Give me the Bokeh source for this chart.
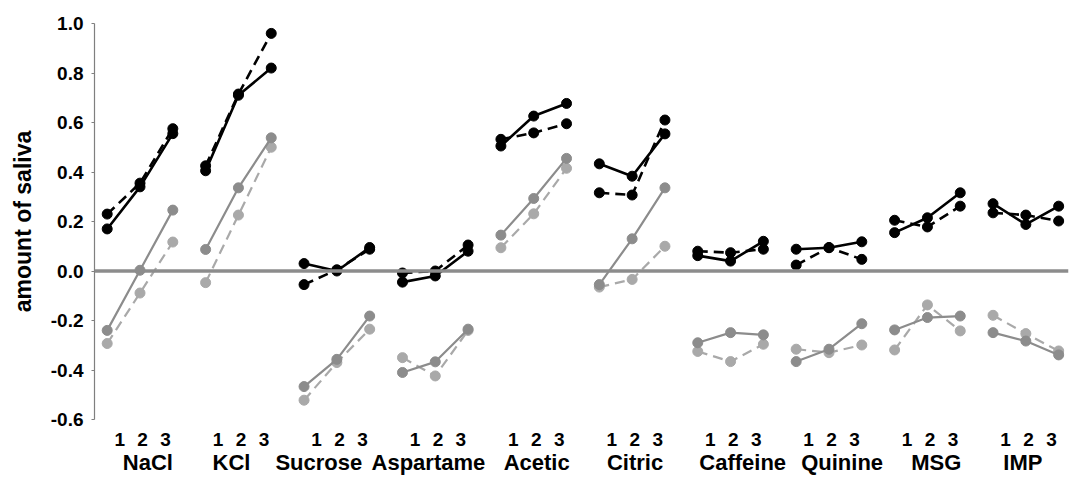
from bokeh.plotting import figure
from bokeh.models import Range1d, LinearAxis, FixedTicker, Span, PrintfTickFormatter
from bokeh.embed import file_html
from bokeh.resources import INLINE

groups = ["NaCl", "KCl", "Sucrose", "Aspartame", "Acetic", "Citric",
          "Caffeine", "Quinine", "MSG", "IMP"]
levels = ["1", "2", "3"]
y_ticks = [-0.6, -0.4, -0.2, 0.0, 0.2, 0.4, 0.6, 0.8, 1.0]

black_solid = [[0.17, 0.34, 0.555], [0.405, 0.71, 0.82], [0.03, 0.0, 0.095],
               [-0.045, -0.02, 0.08], [0.505, 0.626, 0.677], [0.433, 0.383, 0.554],
               [0.062, 0.04, 0.12], [0.088, 0.094, 0.118], [0.155, 0.215, 0.316],
               [0.272, 0.188, 0.262]]
black_dashed = [[0.23, 0.355, 0.575], [0.425, 0.715, 0.96], [-0.055, 0.005, 0.088],
                [-0.008, 0.0, 0.105], [0.532, 0.558, 0.595], [0.316, 0.307, 0.61],
                [0.08, 0.074, 0.088], [0.024, 0.095, 0.047], [0.205, 0.178, 0.262],
                [0.235, 0.226, 0.202]]
gray_solid = [[-0.24, 0.003, 0.246], [0.087, 0.336, 0.538], [-0.467, -0.357, -0.182],
              [-0.41, -0.367, -0.235], [0.145, 0.293, 0.455], [-0.055, 0.13, 0.336],
              [-0.29, -0.249, -0.258], [-0.366, -0.316, -0.213], [-0.238, -0.188, -0.182],
              [-0.249, -0.283, -0.339]]
gray_dashed = [[-0.293, -0.089, 0.117], [-0.047, 0.226, 0.50], [-0.522, -0.37, -0.235],
               [-0.35, -0.424, -0.24], [0.094, 0.231, 0.415], [-0.065, -0.034, 0.10],
               [-0.325, -0.366, -0.296], [-0.316, -0.33, -0.299], [-0.319, -0.137, -0.242],
               [-0.179, -0.253, -0.323]]

# layout only: horizontal nudges of the group names (in x units)
name_shift = [0.24, -0.21, -0.55, -0.21, 0.09, 0.09, 0.37, 0.40, 0.27, -0.09]

FONT = "Liberation Sans"
n = len(levels)

p = figure(width=1072, height=478, output_backend="svg", toolbar_location=None,
           x_range=Range1d(-0.387, 29.3), y_range=Range1d(-0.6, 1.0),
           x_axis_location=None, min_border_left=94, min_border_right=4,
           min_border_top=23, min_border_bottom=59)
p.outline_line_color = None
p.xgrid.visible = False
p.ygrid.visible = False
p.background_fill_color = "white"

# y axis
ya = p.yaxis[0]
ya.ticker = FixedTicker(ticks=y_ticks)
ya.formatter = PrintfTickFormatter(format="%.1f")
ya.axis_label = "amount of saliva"
ya.axis_label_text_font = FONT
ya.axis_label_text_font_style = "bold"
ya.axis_label_text_font_size = "23px"
ya.axis_label_text_color = "black"
ya.axis_label_standoff = 12
ya.major_label_text_font = FONT
ya.major_label_text_font_style = "bold"
ya.major_label_text_font_size = "19px"
ya.major_label_text_color = "black"
ya.major_label_standoff = 8
ya.axis_line_color = "#7f7f7f"
ya.axis_line_width = 1.2
ya.major_tick_line_color = "#7f7f7f"
ya.major_tick_out = 3
ya.major_tick_in = 0
ya.minor_tick_line_color = None

# zero line
p.add_layout(Span(location=0, dimension="width", line_color="#8c8c8c", line_width=3.5))

def xs_for(g):
    return [g * n + k for k in range(n)]

def add_series(data, color, dash, lw, size):
    xs = [xs_for(g) for g in range(len(groups))]
    p.multi_line(xs=xs, ys=data, line_color=color, line_width=lw, line_dash=dash)
    px = [x for row in xs for x in row]
    py = [y for row in data for y in row]
    p.scatter(px, py, size=size, fill_color=color, line_color=color)

add_series(gray_dashed, "#a9a9a9", "10 6", 2.2, 10)
add_series(gray_solid, "#8c8c8c", "solid", 2.2, 10)
add_series(black_dashed, "black", "10 6", 2.6, 10)
add_series(black_solid, "black", "solid", 2.6, 10)

# x labels: level numbers
lvl_ticks = []
lvl_over = {}
for g in range(len(groups)):
    mid = g * n + 1
    for k, lab in enumerate(levels):
        t = round(mid + 0.08 + (k - 1) * 0.7, 3)
        lvl_ticks.append(t)
        lvl_over[t] = lab

ax1 = LinearAxis(ticker=FixedTicker(ticks=lvl_ticks), major_label_overrides=lvl_over)
ax1.axis_line_color = None
ax1.major_tick_line_color = None
ax1.minor_tick_line_color = None
ax1.major_tick_out = 0
ax1.major_tick_in = 0
ax1.major_label_standoff = 13
ax1.major_label_text_font = FONT
ax1.major_label_text_font_style = "bold"
ax1.major_label_text_font_size = "19px"
ax1.major_label_text_color = "black"
p.add_layout(ax1, "below")

grp_ticks = [round(g * n + 1 + s, 3) for g, s in zip(range(len(groups)), name_shift)]
grp_over = {t: name for t, name in zip(grp_ticks, groups)}
ax2 = LinearAxis(ticker=FixedTicker(ticks=grp_ticks), major_label_overrides=grp_over)
ax2.axis_line_color = None
ax2.major_tick_line_color = None
ax2.minor_tick_line_color = None
ax2.major_tick_out = 0
ax2.major_tick_in = 0
ax2.major_label_standoff = 1
ax2.major_label_text_font = FONT
ax2.major_label_text_font_style = "bold"
ax2.major_label_text_font_size = "22px"
ax2.major_label_text_color = "black"
p.add_layout(ax2, "below")

open("out.html", "w").write(file_html(p, INLINE))
